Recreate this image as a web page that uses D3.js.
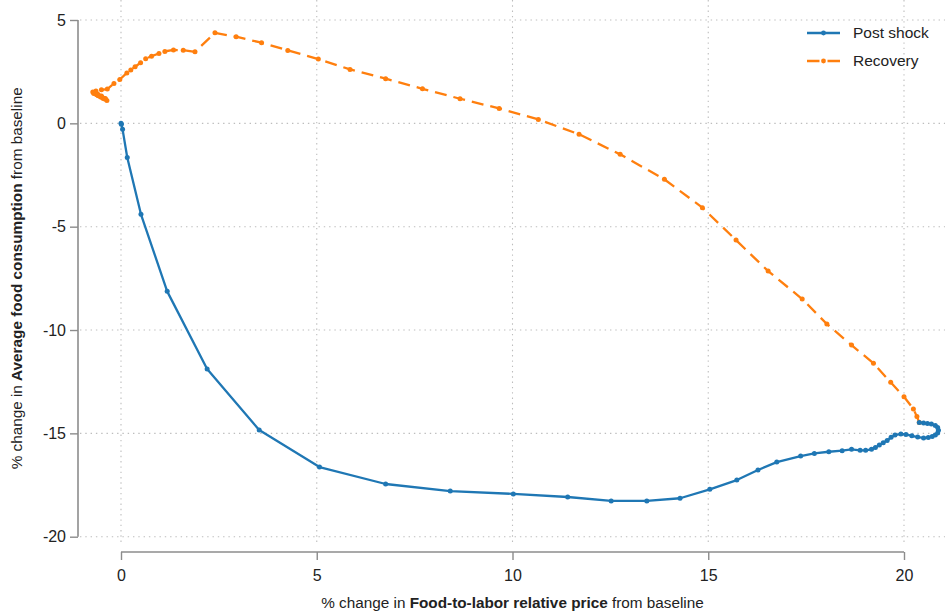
<!DOCTYPE html>
<html>
<head>
<meta charset="utf-8">
<script src="https://cdn.jsdelivr.net/npm/d3@7"></script>
<style>
  html, body { margin: 0; padding: 0; background: #fff; }
  svg { display: block; font-family: "Liberation Sans", Arial, sans-serif; }
</style>
</head>
<body>
<svg id="chart" width="945" height="616"></svg>
<script>
// ---------- data ----------
const postShockX = [0, 0.01, 0.04, 0.16, 0.51, 1.18, 2.20, 3.53, 5.07, 6.76, 8.41, 10.02, 11.41, 12.52, 13.43, 14.28, 15.04, 15.73, 16.27, 16.75, 17.36, 17.71, 18.08, 18.42, 18.66, 18.88, 19.02, 19.17, 19.27, 19.37, 19.47, 19.57, 19.67, 19.77, 19.92, 20.05, 20.20, 20.35, 20.50, 20.62, 20.72, 20.80, 20.86, 20.88, 20.86, 20.80, 20.70, 20.60, 20.50, 20.39];
const postShockY = [0, -0.05, -0.29, -1.65, -4.40, -8.13, -11.89, -14.84, -16.63, -17.45, -17.79, -17.93, -18.08, -18.27, -18.27, -18.14, -17.71, -17.26, -16.77, -16.39, -16.10, -15.97, -15.89, -15.84, -15.77, -15.82, -15.82, -15.77, -15.69, -15.56, -15.45, -15.35, -15.19, -15.08, -15.03, -15.05, -15.12, -15.18, -15.22, -15.20, -15.15, -15.08, -14.98, -14.85, -14.72, -14.62, -14.55, -14.52, -14.50, -14.47];

const recoveryX = [20.39, 20.33, 20.24, 20.00, 19.66, 19.22, 18.66, 18.03, 17.40, 16.53, 15.71, 14.85, 13.88, 12.75, 11.70, 10.66, 9.66, 8.66, 7.70, 6.76, 5.85, 5.04, 4.26, 3.59, 2.94, 2.40, 1.89, 1.59, 1.34, 1.12, 0.97, 0.78, 0.63, 0.50, 0.36, 0.25, 0.15, -0.03, -0.18, -0.35, -0.50, -0.64, -0.72, -0.68, -0.58, -0.46, -0.36, -0.40, -0.50, -0.60, -0.68, -0.70, -0.62, -0.52, -0.44, -0.40, -0.48, -0.58, -0.64, -0.60, -0.54];
const recoveryY = [-14.47, -14.19, -13.82, -13.23, -12.53, -11.61, -10.73, -9.71, -8.50, -7.15, -5.65, -4.08, -2.71, -1.50, -0.53, 0.19, 0.72, 1.19, 1.67, 2.16, 2.61, 3.11, 3.53, 3.90, 4.19, 4.38, 3.46, 3.54, 3.55, 3.48, 3.38, 3.25, 3.12, 2.93, 2.74, 2.58, 2.44, 2.12, 1.93, 1.66, 1.62, 1.57, 1.52, 1.44, 1.34, 1.22, 1.10, 1.20, 1.32, 1.42, 1.50, 1.46, 1.38, 1.28, 1.20, 1.16, 1.26, 1.36, 1.42, 1.38, 1.32];

const xTicks = [0, 5, 10, 15, 20];
const yTicks = [5, 0, -5, -10, -15, -20];
const seriesNames = ["Post shock", "Recovery"];
const seriesColors = ["#1f77b4", "#ff7f0e"];

// ---------- layout ----------
const svg = d3.select("#chart");
const x = d3.scaleLinear().domain([0, 20]).range([121, 904]);
const y = d3.scaleLinear().domain([-20, 5]).range([536.7, 20]);
const plotLeft = 80, plotRight = 945, plotTop = 0, plotBottom = 545;
const textColor = "#222";
const axisColor = "#8c8c8c";

// gridlines
const grid = svg.append("g");
grid.selectAll("line.h").data(yTicks).join("line")
  .attr("x1", plotLeft).attr("x2", plotRight)
  .attr("y1", d => y(d)).attr("y2", d => y(d))
  .attr("stroke", "#bdbdbd").attr("stroke-width", 1.1)
  .attr("stroke-dasharray", "1.4,3.9");
grid.selectAll("line.v").data(xTicks).join("line")
  .attr("y1", plotTop).attr("y2", plotBottom)
  .attr("x1", d => x(d)).attr("x2", d => x(d))
  .attr("stroke", "#bdbdbd").attr("stroke-width", 1.1)
  .attr("stroke-dasharray", "1.4,3.9");

// axes (range frame style)
const xAxis = d3.axisBottom(x).tickValues(xTicks).tickSize(8).tickPadding(10).tickFormat(d3.format("d"));
const gx = svg.append("g").attr("transform", "translate(0,552)").call(xAxis);
const yAxis = d3.axisLeft(y).tickValues(yTicks).tickSize(8).tickPadding(4).tickFormat(d => d < 0 ? "-" + Math.abs(d) : d);
const gy = svg.append("g").attr("transform", "translate(78,0)").call(yAxis);
[gx, gy].forEach(g => {
  g.select(".domain").attr("stroke", axisColor).attr("stroke-width", 1.6);
  g.selectAll(".tick line").attr("stroke", axisColor).attr("stroke-width", 1.4);
  g.selectAll(".tick text").attr("fill", textColor).style("font-size", "16px")
    .style("font-family", '"Liberation Sans", Arial, sans-serif');
});
gx.select(".domain").attr("d", `M${x(0)},0H${x(20)}`);
gy.select(".domain").attr("d", `M0,${y(5)}V${y(-20)}`);

// ---------- series ----------
const line = d3.line().x(d => x(d[0])).y(d => y(d[1]));
const postData = postShockX.map((v, i) => [v, postShockY[i]]);
const recData = recoveryX.map((v, i) => [v, recoveryY[i]]);

svg.append("path").datum(recData).attr("d", line)
  .attr("fill", "none").attr("stroke", seriesColors[1]).attr("stroke-width", 2.3)
  .attr("stroke-dasharray", "12,7").attr("stroke-linejoin", "round");
svg.append("g").selectAll("circle").data(recData).join("circle")
  .attr("cx", d => x(d[0])).attr("cy", d => y(d[1])).attr("r", 2.5)
  .attr("fill", seriesColors[1]);

svg.append("path").datum(postData).attr("d", line)
  .attr("fill", "none").attr("stroke", seriesColors[0]).attr("stroke-width", 2.3)
  .attr("stroke-linejoin", "round");
svg.append("g").selectAll("circle").data(postData).join("circle")
  .attr("cx", d => x(d[0])).attr("cy", d => y(d[1])).attr("r", 2.5)
  .attr("fill", seriesColors[0]);

// ---------- legend ----------
const legend = svg.append("g");
seriesNames.forEach((name, i) => {
  const ly = 33 + i * 28;
  legend.append("line").attr("x1", 807).attr("x2", 840).attr("y1", ly).attr("y2", ly)
    .attr("stroke", seriesColors[i]).attr("stroke-width", 2.3)
    .attr("stroke-dasharray", i === 1 ? "12.5,8" : null);
  legend.append("circle").attr("cx", 823.5).attr("cy", ly).attr("r", 2.4).attr("fill", seriesColors[i]);
  legend.append("text").attr("x", 853).attr("y", ly).attr("dy", "0.35em")
    .attr("fill", textColor).style("font-size", "15.5px").text(name);
});

// ---------- axis titles ----------
const xt = svg.append("text").attr("x", (x(0) + x(20)) / 2).attr("y", 608)
  .attr("text-anchor", "middle").attr("fill", textColor).style("font-size", "15.3px");
xt.append("tspan").text("% change in ");
xt.append("tspan").attr("font-weight", "bold").text("Food-to-labor relative price");
xt.append("tspan").text(" from baseline");

const yt = svg.append("text")
  .attr("transform", `translate(22,${(y(5) + y(-20)) / 2}) rotate(-90)`)
  .attr("text-anchor", "middle").attr("fill", textColor).style("font-size", "15.3px");
yt.append("tspan").text("% change in ");
yt.append("tspan").attr("font-weight", "bold").text("Average food consumption");
yt.append("tspan").text(" from baseline");
</script>
</body>
</html>
